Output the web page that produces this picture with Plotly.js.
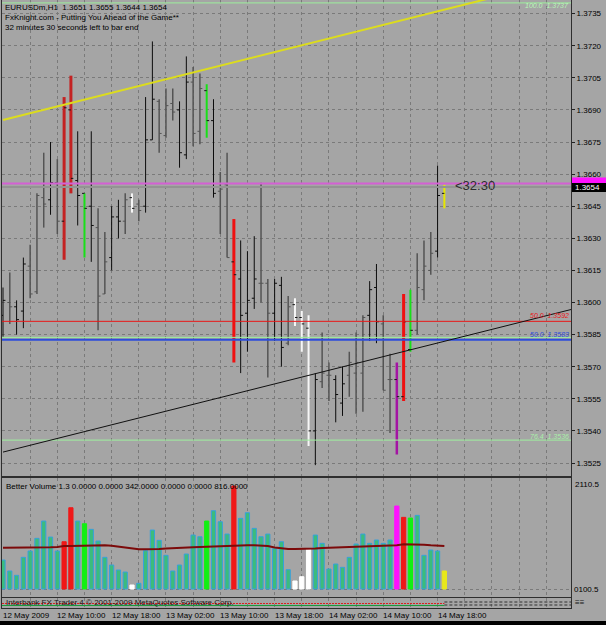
<!DOCTYPE html>
<html><head><meta charset="utf-8">
<script src="https://cdn.plot.ly/plotly-3.0.1.min.js"></script>
<style>html,body{margin:0;padding:0;background:#a5a5a5;} #chart{width:606px;height:625px;}</style>
</head><body><div id="chart"></div>
<script>
// ---------- data ----------
const dateLabels = ["12 May 2009","12 May 10:00","12 May 18:00","13 May 02:00","13 May 10:00","13 May 18:00","14 May 02:00","14 May 10:00","14 May 18:00"];
const dateLabelBars = [0,8,16,24,32,40,48,56,64];
const priceTicks = [1.3525,1.3540,1.3555,1.3570,1.3585,1.3600,1.3615,1.3630,1.3645,1.3660,1.3675,1.3690,1.3705,1.3720,1.3735];

const open  = [1.3594,1.3600,1.3598,1.3596,1.3617,1.3605,1.3649,1.3648,1.3656,1.3638,1.3690,1.3657,1.3651,1.3645,1.3635,1.3604,1.3621,1.3640,1.3638,1.3649,1.3646,1.3645,1.3676,1.3694,1.3678,1.3693,1.3690,1.3669,1.3703,1.3680,1.3699,1.3685,1.3652,1.3655,1.3619,1.3611,1.3595,1.3602,1.3609,1.3609,1.3595,1.3608,1.3581,1.3599,1.3593,1.3588,1.3540,1.3563,1.3566,1.3564,1.3553,1.3566,1.3567,1.3567,1.3594,1.3607,1.3590,1.3564,1.3564,1.3556,1.3578,1.3587,1.3606,1.3615,1.3624,1.3651];
const high  = [1.3607,1.3614,1.3601,1.3621,1.3627,1.3651,1.3670,1.3675,1.3667,1.3696,1.3706,1.3680,1.3651,1.3680,1.3644,1.3633,1.3645,1.3648,1.3651,1.3651,1.3648,1.3696,1.3722,1.3695,1.3700,1.3700,1.3694,1.3715,1.3710,1.3707,1.3702,1.3695,1.3661,1.3670,1.3639,1.3629,1.3624,1.3631,1.3656,1.3611,1.3611,1.3612,1.3603,1.3602,1.3596,1.3594,1.3567,1.3586,1.3572,1.3566,1.3570,1.3577,1.3586,1.3594,1.3610,1.3618,1.3594,1.3576,1.3572,1.3604,1.3606,1.3623,1.3629,1.3633,1.3664,1.3655];
const low   = [1.3584,1.3590,1.3585,1.3588,1.3602,1.3604,1.3635,1.3641,1.3632,1.3620,1.3651,1.3636,1.3621,1.3619,1.3587,1.3604,1.3615,1.3630,1.3632,1.3642,1.3638,1.3642,1.3676,1.3670,1.3677,1.3685,1.3663,1.3667,1.3673,1.3674,1.3677,1.3649,1.3632,1.3621,1.3572,1.3567,1.3577,1.3597,1.3600,1.3565,1.3582,1.3570,1.3580,1.3589,1.3577,1.3533,1.3524,1.3560,1.3554,1.3544,1.3547,1.3556,1.3548,1.3549,1.3582,1.3581,1.3559,1.3539,1.3529,1.3554,1.3577,1.3585,1.3601,1.3613,1.3621,1.3644];
const close = [1.3601,1.3598,1.3592,1.3618,1.3604,1.3650,1.3646,1.3656,1.3638,1.3691,1.3658,1.3650,1.3644,1.3636,1.3603,1.3619,1.3640,1.3638,1.3648,1.3644,1.3643,1.3676,1.3695,1.3679,1.3692,1.3689,1.3670,1.3703,1.3679,1.3700,1.3685,1.3651,1.3653,1.3621,1.3613,1.3594,1.3601,1.3611,1.3609,1.3595,1.3609,1.3579,1.3598,1.3593,1.3590,1.3540,1.3564,1.3567,1.3566,1.3557,1.3562,1.3572,1.3572,1.3593,1.3606,1.3591,1.3559,1.3564,1.3556,1.3591,1.3587,1.3607,1.3617,1.3623,1.3650,1.3654];
// bar class: k black, g grey, R/r red (climax), G green, w white, m magenta, y yellow (current)
const barClass = ["k","g","k","k","g","g","g","k","g","R","R","k","G","k","g","g","k","k","g","w","g","k","k","g","g","g","k","k","g","g","G","k","g","g","r","k","k","k","g","g","k","k","g","w","w","w","k","g","g","k","k","g","g","g","k","k","g","g","m","r","G","g","g","g","k","y"];
const volume = [551,342,260,602,722,963,1292,988,722,899,1545,1292,1241,1134,912,602,456,361,323,76,108,728,1121,925,640,342,456,665,1026,994,1292,1488,1279,1045,1957,1343,1450,1153,994,1045,766,899,367,152,234,760,1026,868,380,475,412,602,855,1045,868,931,868,931,1577,1362,1349,1400,640,741,722,342];
const volumeMA = [785,785,785,785,785,790,790,795,800,817,817,820,820,830,830,830,820,800,780,760,754,754,754,760,770,773,773,780,792,800,805,817,817,820,823,830,830,830,823,817,790,770,760,760,760,760,770,780,785,785,790,800,804,804,810,815,823,823,830,849,849,849,840,830,820,816];
const volMax = 2110.5;

// trend lines [bar, price] pairs
const yellowTrend = [[0,1.36853],[74,1.37440]];
const blackTrend  = [[0,1.35301],[84,1.35970]];
// horizontal levels
const fiboLevels = [1.37400,1.35912,1.35837,1.35826,1.35357];
const fiboLabels = ["100.0  1.3737","50.0  1.3592","","50.0  1.3583","76.4  1.3536"];
const askLine = 1.36556, bidLine = 1.3654;
const header = ["EURUSDm,H1  1.3651 1.3655 1.3644 1.3654","FxKnight.com - Putting You Ahead of the Game**","32 minutes 30 seconds left to bar end"];
const volTitle = "Better Volume 1.3 0.0000 0.0000 342.0000 0.0000 0.0000 816.0000";
const footerText = "Interbank FX Trader 4 \u00a9 2001-2009 MetaQuotes Software Corp.";
const timer = "<32:30";

// ---------- drawing ----------
const W = 606, H = 625;
const px = v => v / W, py = v => 1 - v / H;
const FONT = "Liberation Sans, Arial, sans-serif";
const palette = {k:'#0c0c0c', g:'#545454', R:'#c42222', r:'#f01010', G:'#18e018', w:'#f6f6f6', m:'#a414a4', y:'#e6e600'};
const lw = {k:1, g:1.5, R:3, r:3, G:2, w:2, m:2.5, y:2};
const volPalette = {R:'#f01818', r:'#f01818', G:'#12f012', w:'#ffffff', m:'#ff10ff', y:'#e8e81a'};
const TICK = 0.36;

const traces = [];
['g','k','R','r','G','w','m','y'].forEach(c => {
  const xs=[], ys=[], tx=[], ty=[];
  barClass.forEach((bc,i) => {
    if (bc !== c) return;
    xs.push(i,i,null); ys.push(low[i],high[i],null);
    tx.push(i-TICK,i,null,i,i+TICK,null); ty.push(open[i],open[i],null,close[i],close[i],null);
  });
  if (!xs.length) return;
  const plain = (c==='k'||c==='g');
  traces.push({type:'scatter',mode:'lines',x:xs,y:ys,line:{color:palette[c],width:lw[c]},hoverinfo:'skip',showlegend:false,xaxis:'x',yaxis:'y'});
  traces.push({type:'scatter',mode:'lines',x:tx,y:ty,line:{color:plain?palette[c]:'#141414',width:1},hoverinfo:'skip',showlegend:false,xaxis:'x',yaxis:'y'});
});
const idx = volume.map((_,i)=>i);
traces.push({type:'bar',x:idx,y:volume,width:0.62,xaxis:'x2',yaxis:'y2',showlegend:false,hoverinfo:'skip',
  marker:{color:barClass.map(c=>volPalette[c]||'#3cbc7c'),line:{color:barClass.map(c=>volPalette[c]||'#38a0dc'),width:1}}});
traces.push({type:'scatter',mode:'lines',x:idx,y:volumeMA,xaxis:'x2',yaxis:'y2',line:{color:'#7c0a0a',width:2},showlegend:false,hoverinfo:'skip'});

const xr = [-0.147, 83.65];
const gridC = '#7a7a7a', dash = '3px,3px', borderC = '#2e2e2e';
const xCommon = {range:xr, showgrid:true, gridcolor:gridC, griddash:dash, gridwidth:1, tick0:0, dtick:4, showticklabels:false, ticks:'', zeroline:false, showline:true, linecolor:borderC, mirror:true, fixedrange:true};

const shapes = [];
const trendShape = (t,color,w) => ({type:'line',xref:'x',yref:'y',x0:t[0][0],y0:t[0][1],x1:t[1][0],y1:t[1][1],line:{color:color,width:w},layer:'above'});
const fiboColors = ['#9ef09e','#e81818','#9ef09e','#2c4cdc','#9ef09e'];
const fiboWidth = [1,1,1,2,1];
fiboLevels.forEach((lv,k) => shapes.push({type:'line',xref:'x',yref:'y',x0:xr[0],x1:xr[1],y0:lv,y1:lv,line:{color:fiboColors[k],width:fiboWidth[k]},layer:'above'}));
shapes.push({type:'line',xref:'x',yref:'y',x0:xr[0],x1:xr[1],y0:bidLine,y1:bidLine,line:{color:'#939393',width:2},layer:'above'});
shapes.push({type:'line',xref:'x',yref:'y',x0:xr[0],x1:xr[1],y0:askLine,y1:askLine,line:{color:'#d460d4',width:2},layer:'above'});
shapes.push(trendShape(yellowTrend,'#dcdc1e',2));
shapes.push(trendShape(blackTrend,'#101010',1));
// price boxes on right axis
shapes.push({type:'rect',xref:'paper',yref:'paper',x0:px(572),x1:px(606),y0:py(183),y1:py(177.5),fillcolor:'#ff10ff',line:{width:0}});
shapes.push({type:'rect',xref:'paper',yref:'paper',x0:px(572),x1:px(606),y0:py(192),y1:py(183),fillcolor:'#000000',line:{width:0}});
// bottom strip
shapes.push({type:'rect',xref:'paper',yref:'paper',x0:0,x1:1,y0:0,y1:py(621),fillcolor:'#000000',line:{width:0}});
// third (tiny) indicator pane lines
shapes.push({type:'line',xref:'x3',yref:'paper',x0:xr[0],x1:65,y0:py(603.5),y1:py(603.5),line:{color:'#d82020',width:1,dash:'2px,1px'}});
shapes.push({type:'line',xref:'x3',yref:'paper',x0:xr[0],x1:65,y0:py(605.5),y1:py(605.5),line:{color:'#1a9a3a',width:1}});
shapes.push({type:'line',xref:'x3',yref:'paper',x0:65,x1:xr[1],y0:py(602),y1:py(602),line:{color:'#303030',width:1,dash:'3px,2px'}});
shapes.push({type:'line',xref:'x3',yref:'paper',x0:65,x1:xr[1],y0:py(605),y1:py(605),line:{color:'#303030',width:1,dash:'3px,2px'}});

const ann = [];
const txt = (x,y,t,o={}) => ann.push(Object.assign({xref:'paper',yref:'paper',x:px(x),y:py(y),text:t,showarrow:false,xanchor:'left',yanchor:'middle',font:{family:FONT,size:8,color:'#000'},borderpad:0},o));
header.forEach((t,k)=>txt(4,7.5+10*k,t));
txt(454,185,timer,{font:{family:FONT,size:13,color:'#2e2e2e'}});
const fiboLabelY = [5,315,null,334,436];
const fiboTxtC = ['#b8f8b8','#e81818','','#2c4cdc','#a8f0a8'];
fiboLabels.forEach((t,k)=>{ if(t) txt(570,fiboLabelY[k],t,{xanchor:'right',font:{family:FONT,size:7,color:fiboTxtC[k],style:'italic'}}); });
txt(574,187.5,close[close.length-1].toFixed(4),{font:{family:FONT,size:8,color:'#ffffff'}});
txt(5,486,volTitle);
txt(574,484,volMax.toFixed(1));
txt(573,589,'0100.5');
txt(5,602,footerText,{font:{family:FONT,size:8,color:'#1a1a1a'}});
txt(574,602,'\u2261\u2261',{font:{family:FONT,size:8,color:'#111'}});
dateLabels.forEach((t,k)=>ann.push({xref:'x3',yref:'paper',x:dateLabelBars[k],y:py(615),text:t,showarrow:false,xanchor:'left',yanchor:'middle',xshift:-1,font:{family:FONT,size:8,color:'#000'},borderpad:0}));

const layout = {
  width:W, height:H, margin:{l:0,r:0,t:0,b:0},
  paper_bgcolor:'#a5a5a5', plot_bgcolor:'#a5a5a5', showlegend:false, bargap:0,
  font:{family:FONT,size:8,color:'#000'},
  xaxis: Object.assign({domain:[px(2),px(571)], anchor:'y'}, xCommon),
  xaxis2: Object.assign({domain:[px(2),px(571)], anchor:'y2', matches:'x'}, xCommon),
  xaxis3: Object.assign({domain:[px(2),px(571)], anchor:'y3', matches:'x'}, xCommon),
  yaxis: {domain:[py(475.5),1], range:[1.351916,1.374136], side:'right', tickvals:priceTicks, tickformat:'.4f',
    showgrid:true, gridcolor:gridC, griddash:dash, ticks:'outside', ticklen:3, tickcolor:'#222', tickfont:{family:FONT,size:8,color:'#000'},
    showline:true, linecolor:borderC, mirror:true, zeroline:false, fixedrange:true},
  yaxis2: {domain:[py(596.5),py(477.5)], range:[-142.6,2120], side:'right', tickvals:[0], showticklabels:false, ticks:'',
    showgrid:true, gridcolor:gridC, griddash:dash, showline:true, linecolor:borderC, mirror:true, zeroline:false, fixedrange:true},
  yaxis3: {domain:[py(608),py(597.5)], range:[0,1], showticklabels:false, ticks:'', showgrid:false, showline:true, linecolor:borderC, mirror:true, zeroline:false, fixedrange:true},
  shapes: shapes, annotations: ann
};
Plotly.newPlot('chart', traces, layout, {staticPlot:true, displayModeBar:false});
</script></body></html>
